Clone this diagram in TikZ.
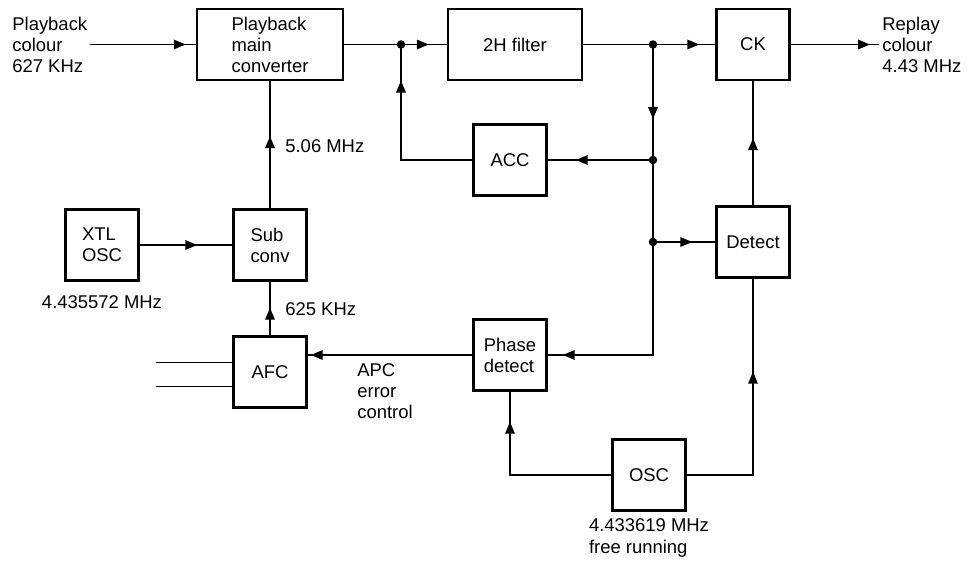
\documentclass[tikz,border=0pt]{standalone}
\usepackage{fontspec}
\setmainfont{Liberation Sans}
\usepackage{tikz}
\usetikzlibrary{arrows.meta,calc,decorations.markings}

\begin{document}
\begin{tikzpicture}[node distance=2.5cm, auto,
  every node/.style={font=\fontsize{10.5}{12}\selectfont},
  block/.style={rectangle, draw, line width=1.4pt, align=left, inner sep=0pt, minimum width=1.46cm, minimum height=1.42cm},
  txt/.style={align=left, inner sep=0pt},
  line/.style={draw, line width=0.95pt},
  arr/.style={postaction={decorate}, decoration={markings, mark=at position #1 with {\arrow{Triangle[length=0.24cm, width=0.19cm]}}}},
  dot/.style={circle, fill, inner sep=0pt, minimum size=0.17cm}]

  \useasboundingbox (-5.4,0.89) rectangle (14.06,-10.31);

  \node [block, minimum width=2.92cm] (mainconv) {Playback\\main\\converter};
  \node [block, right of=mainconv, node distance=4.9cm, minimum width=2.68cm] (filter) {2H filter};
  \node [block, right of=filter, node distance=4.76cm] (ck) {CK};
  \node [block, below of=filter, node distance=2.31cm, xshift=-0.1cm] (acc) {ACC};
  \node [block, below of=ck, node distance=3.95cm] (detect) {Detect};

  % left column
  \node [block, below of=mainconv, node distance=4.01cm] (subconv) {Sub\\conv};
  \node [block, left of=subconv, node distance=3.36cm] (xtl) {XTL\\OSC};
  \node [block, below of=subconv, node distance=2.54cm] (afc) {AFC};

  % lower loop
  \node [block, below of=acc, node distance=3.9cm] (phase) {Phase\\detect};
  \node [block, below of=phase, node distance=2.4cm, xshift=2.78cm] (osc) {OSC};

  % junctions and free ends
  \coordinate [left of=mainconv, node distance=3.6cm] (in);
  \coordinate [right of=ck, node distance=2.52cm] (out);
  \coordinate [right of=mainconv, node distance=2.62cm] (j1);
  \coordinate [right of=filter, node distance=2.76cm] (j2);
  \coordinate (j3) at (j2 |- acc);
  \coordinate (j4) at (j2 |- detect);
  \coordinate (afcin1) at ($(afc.west)+(-1.52,0.19)$);
  \coordinate (afcin2) at ($(afc.west)+(-1.52,-0.29)$);

  % labels
  \node [txt, anchor=west] (inlbl) at (-5.16,0) {Playback\\colour\\627 KHz};
  \node [txt, anchor=west, xshift=0.06cm] (outlbl) at (out) {Replay\\colour\\4.43 MHz};
  \node [txt, anchor=west] (lblsub) at (0.3,-2.03) {5.06 MHz};
  \node [txt, anchor=west] (lblafc) at (0.3,-5.29) {625 KHz};
  \node [txt, below of=xtl, node distance=1.14cm] (xtlfreq) {4.435572 MHz};
  \node [txt, anchor=west] (apc) at (1.74,-6.93) {APC\\error\\control};
  \node [txt, below of=osc, node distance=1.26cm] (oscfreq) {4.433619 MHz\\free running};

  \path [line, arr=-0.2cm] (in) -- (mainconv);
  \path [line] (mainconv) -- (j1);
  \path [line, arr=-0.36cm] (j1) -- (filter);
  \path [line] (filter) -- (j2);
  \path [line, arr=-0.32cm] (j2) -- (ck);
  \path [line, arr=-0.18cm] (ck) -- (out);
  \path [line, arr=-0.82cm] (j2) -- (j3);
  \path [line, arr=-0.56cm] (j3) -- (acc);
  \path [line, arr=-0.72cm] (acc) -| (j1);
  \path [line] (j3) -- (j4);
  \path [line, arr=-0.46cm] (j4) -- (detect);
  \path [line, arr=-1.14cm] (detect) -- (ck);
  \path [line, arr=-0.3cm] (j4) |- (phase);
  \path [line, arr=-0.06cm] (phase.west) -- (phase.west -| afc.east);
  \path [line, arr=-0.52cm] (afc) -- (subconv);
  \path [line, arr=-1.1cm] (subconv) -- (mainconv);
  \path [line, arr=-0.7cm] (xtl) -- (subconv);
  \path [line, arr=-0.6cm] (osc) -| (phase);
  \path [line, arr=-1.86cm] (osc) -| (detect);
  \path [line] (afcin1) -- (afcin1 -| afc.west);
  \path [line] (afcin2) -- (afcin2 -| afc.west);

  \node [dot] at (j1) {};
  \node [dot] at (j2) {};
  \node [dot] at (j3) {};
  \node [dot] at (j4) {};
\end{tikzpicture}
\end{document}
